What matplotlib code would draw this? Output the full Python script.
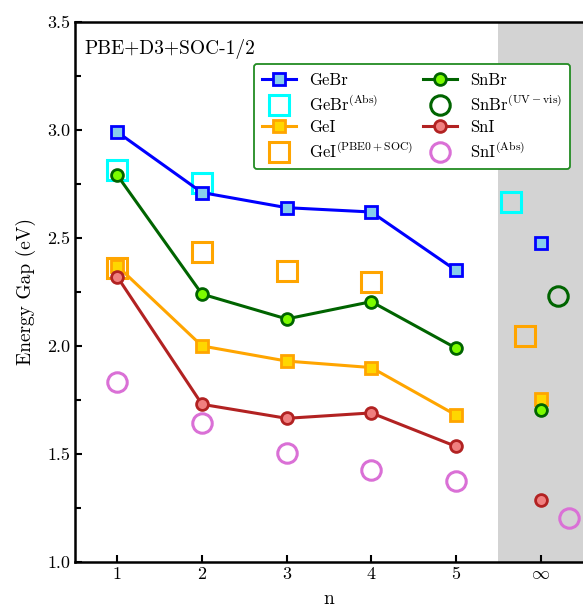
import matplotlib.pyplot as plt
from matplotlib.ticker import MultipleLocator

plt.rcParams['font.family'] = 'serif'
plt.rcParams['font.serif'] = ['cmr10']
plt.rcParams['mathtext.fontset'] = 'cm'
plt.rcParams['axes.formatter.use_mathtext'] = True

# dane: n = 1..5 oraz osobna kolumna dla n -> nieskonczonosc
n = [1, 2, 3, 4, 5]
gebr = [2.99, 2.71, 2.64, 2.62, 2.35]
gei = [2.37, 2.00, 1.93, 1.90, 1.68]
snbr = [2.79, 2.24, 2.125, 2.205, 1.99]
sni = [2.32, 1.73, 1.665, 1.69, 1.535]

gebr_abs_n = [1, 2]
gebr_abs = [2.815, 2.755]
gei_pbe0_n = [1, 2, 3, 4]
gei_pbe0 = [2.36, 2.435, 2.345, 2.295]
sni_abs_n = [1, 2, 3, 4, 5]
sni_abs = [1.835, 1.645, 1.505, 1.425, 1.375]

# kolumna "inf" (x w jednostkach osi, lekko przesuniete)
inf_x = {'gebr': 6.0, 'gei': 6.0, 'snbr': 6.0, 'sni': 6.0,
         'gebr_abs': 5.65, 'gei_pbe0': 5.82, 'snbr_uv': 6.21, 'sni_abs': 6.34}
inf_y = {'gebr': 2.475, 'gei': 1.755, 'snbr': 1.705, 'sni': 1.285,
         'gebr_abs': 2.665, 'gei_pbe0': 2.045, 'snbr_uv': 2.23, 'sni_abs': 1.205}

xticks = [1, 2, 3, 4, 5, 6]
xtick_labels = ['1', '2', '3', '4', '5', r'$\infty$']

fig = plt.figure(figsize=(5.83, 6.11), dpi=100)
ax = fig.add_axes([0.1286, 0.0802, 0.8714, 0.884])

ax.axvspan(5.5, 6.5, color='lightgray', lw=0, zorder=0)

open_kw = dict(ls='none', mfc='none', mew=2.2, zorder=2)
h_gebr_abs, = ax.plot(gebr_abs_n, gebr_abs, 's', ms=15, mec='cyan', **open_kw)
ax.plot(inf_x['gebr_abs'], inf_y['gebr_abs'], 's', ms=15, mec='cyan', **open_kw)
h_gei_pbe0, = ax.plot(gei_pbe0_n, gei_pbe0, 's', ms=15, mec='orange', **open_kw)
ax.plot(inf_x['gei_pbe0'], inf_y['gei_pbe0'], 's', ms=15, mec='orange', **open_kw)
h_sni_abs, = ax.plot(sni_abs_n, sni_abs, 'o', ms=14, mec='orchid', **open_kw)
ax.plot(inf_x['sni_abs'], inf_y['sni_abs'], 'o', ms=14, mec='orchid', **open_kw)
h_snbr_uv, = ax.plot([], [], 'o', ms=14, mec='darkgreen', **open_kw)
ax.plot(inf_x['snbr_uv'], inf_y['snbr_uv'], 'o', ms=14, mec='darkgreen', **open_kw)

serie = [
    ('gebr', gebr, 's', 'blue', 'skyblue'),
    ('gei', gei, 's', 'orange', 'gold'),
    ('snbr', snbr, 'o', 'darkgreen', 'lawngreen'),
    ('sni', sni, 'o', 'firebrick', 'lightcoral'),
]
uchwyty = {}
for key, vals, mk, col, fill in serie:
    h, = ax.plot(n, vals, '-' + mk, color=col, lw=2.2, ms=8.5, mec=col,
                 mfc=fill, mew=2, zorder=3)
    ax.plot(inf_x[key], inf_y[key], mk, ms=8.5, mec=col, mfc=fill, mew=2, zorder=3)
    uchwyty[key] = h

handles = [uchwyty['gebr'], h_gebr_abs, uchwyty['gei'], h_gei_pbe0,
           uchwyty['snbr'], h_snbr_uv, uchwyty['sni'], h_sni_abs]
labels = ['GeBr', r'GeBr$^{\rm (Abs)}$', 'GeI', r'GeI$^{\rm (PBE0+SOC)}$',
          'SnBr', r'SnBr$^{\rm (UV-vis)}$', 'SnI', r'SnI$^{\rm (Abs)}$']
leg = ax.legend(handles, labels, ncol=2, loc='upper right',
                bbox_to_anchor=(0.975, 0.922), borderaxespad=0,
                fontsize=12, framealpha=1,
                edgecolor='forestgreen', handlelength=2.0, columnspacing=0.6,
                labelspacing=0.35, borderpad=0.5)
leg.get_frame().set_linewidth(1.3)

ax.text(0.018, 0.968, 'PBE+D3+SOC-1/2', transform=ax.transAxes,
        fontsize=14, va='top', ha='left')

ax.set_xlim(0.5, 6.5)
ax.set_ylim(1.0, 3.5)
ax.set_xticks(xticks)
ax.set_xticklabels(xtick_labels)
ax.yaxis.set_major_locator(MultipleLocator(0.5))
ax.yaxis.set_minor_locator(MultipleLocator(0.25))
ax.tick_params(direction='in', labelsize=13, width=1.5, length=5)
ax.tick_params(which='minor', direction='in', width=1.5, length=4)
ax.yaxis.set_major_formatter(plt.FormatStrFormatter('%.1f'))
ax.set_xlabel('n', fontsize=14, labelpad=6)
ax.set_ylabel('Energy Gap (eV)', fontsize=14, labelpad=8)
for s in ['left', 'bottom', 'top']:
    ax.spines[s].set_linewidth(1.8)
ax.spines['right'].set_visible(False)

fig.savefig('out.png', dpi=100)
